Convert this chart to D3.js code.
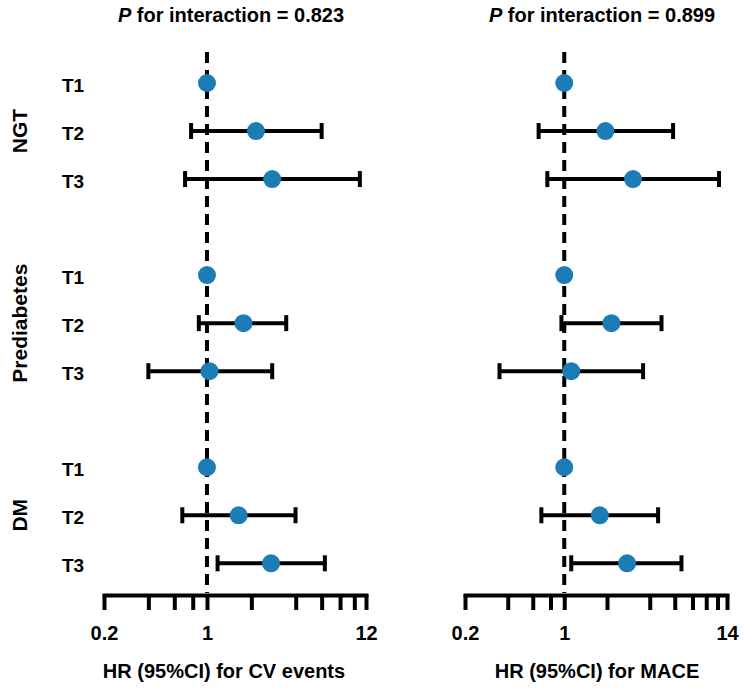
<!DOCTYPE html>
<html>
<head>
<meta charset="utf-8">
<script src="https://cdn.jsdelivr.net/npm/d3@7"></script>
<style>
  body { margin: 0; background: #fff; }
  text { font-family: "Liberation Sans", Arial, sans-serif; font-weight: bold; fill: #000; }
</style>
</head>
<body>
<svg width="744" height="689"></svg>
<script>
// groups and tertiles (rows)
const groups = ["NGT", "Prediabetes", "DM"];
const tertiles = ["T1", "T2", "T3"];

// HR (95%CI) for CV events, row order NGT T1..T3, Prediabetes T1..T3, DM T1..T3
const cvHR   = [1, 2.15, 2.77, 1, 1.77, 1.04, 1, 1.64, 2.72];
const cvLow  = [null, 0.78, 0.71, null, 0.88, 0.40, null, 0.68, 1.18];
const cvHigh = [null, 6.0, 10.9, null, 3.45, 2.77, null, 3.99, 6.31];

// HR (95%CI) for MACE
const maceHR   = [1, 1.95, 3.05, 1, 2.15, 1.12, 1, 1.78, 2.77];
const maceLow  = [null, 0.66, 0.76, null, 0.955, 0.35, null, 0.69, 1.12];
const maceHigh = [null, 5.84, 12.3, null, 4.84, 3.59, null, 4.58, 6.69];

// axis ticks
const cvTicks = [0.2, 0.4, 0.6, 0.8, 1, 2, 4, 6, 8, 10, 12];
const maceTicks = [0.2, 0.4, 0.6, 0.8, 1, 2, 4, 6, 8, 10, 12, 14];
const cvTickLabels = [0.2, 1, 12];
const maceTickLabels = [0.2, 1, 14];

const pValues = ["0.823", "0.899"];
const xTitles = ["HR (95%CI) for CV events", "HR (95%CI) for MACE"];

const svg = d3.select("svg");
const dotColor = "#1b7cb6";
const axisY = 595;

// row index: 3 rows per group with one empty row between groups
const rows = [];
groups.forEach((g, gi) => tertiles.forEach((t, ti) => rows.push({ group: g, label: t, idx: gi * 4 + ti, gi })));

const y = d3.scaleLinear().domain([0, 10]).range([83, 563.3]);

// row labels
svg.append("g").selectAll("text")
    .data(rows)
    .enter().append("text")
    .attr("x", 73)
    .attr("y", d => y(d.idx) + 8.5)
    .attr("text-anchor", "middle")
    .attr("font-size", "19px")
    .text(d => d.label);

// group labels (rotated)
svg.append("g").selectAll("text")
    .data(groups)
    .enter().append("text")
    .attr("transform", (d, i) => `translate(27,${y(i * 4 + 1)}) rotate(-90)`)
    .attr("text-anchor", "middle")
    .attr("font-size", "21px")
    .text(d => d);

const panels = [
    { hr: cvHR, low: cvLow, high: cvHigh, ticks: cvTicks, labels: cvTickLabels, domain: [0.2, 12], range: [104, 366], titleX: 231, xTitleX: 224 },
    { hr: maceHR, low: maceLow, high: maceHigh, ticks: maceTicks, labels: maceTickLabels, domain: [0.2, 14], range: [465, 727], titleX: 602, xTitleX: 597 }
];

panels.forEach((p, pi) => {
    const x = d3.scaleLog().domain(p.domain).range(p.range);
    const g = svg.append("g");

    // title
    const title = g.append("text")
        .attr("x", p.titleX)
        .attr("y", 22)
        .attr("text-anchor", "middle")
        .attr("font-size", "20px");
    title.append("tspan").attr("font-style", "italic").text("P");
    title.append("tspan").text(" for interaction = " + pValues[pi]);

    // reference line at HR = 1
    g.append("line")
        .attr("x1", x(1)).attr("x2", x(1))
        .attr("y1", 52).attr("y2", axisY - 2)
        .attr("stroke", "#000")
        .attr("stroke-width", 4)
        .attr("stroke-dasharray", "11,7");

    // axis
    const axis = d3.axisBottom(x)
        .tickValues(p.ticks)
        .tickSize(15)
        .tickSizeOuter(0)
        .tickPadding(16)
        .tickFormat(d => p.labels.includes(d) ? d3.format("~g")(d) : "");

    const ax = g.append("g")
        .attr("transform", `translate(0,${axisY})`)
        .call(axis);
    ax.select(".domain").attr("stroke-width", 4).attr("stroke-linecap", "square");
    ax.selectAll(".tick line").attr("stroke-width", 4);
    ax.selectAll(".tick text")
        .attr("font-size", "20px")
        .attr("font-family", "Liberation Sans, Arial, sans-serif")
        .attr("font-weight", "bold")
        .attr("fill", "#000");

    // x title
    g.append("text")
        .attr("x", p.xTitleX)
        .attr("y", 678)
        .attr("text-anchor", "middle")
        .attr("font-size", "20px")
        .text(xTitles[pi]);

    const data = rows.map((r, i) => ({ idx: r.idx, hr: p.hr[i], low: p.low[i], high: p.high[i] }));
    const ci = data.filter(d => d.low != null);

    // CI lines
    g.append("g").selectAll("line")
        .data(ci)
        .enter().append("line")
        .attr("x1", d => x(d.low)).attr("x2", d => x(d.high))
        .attr("y1", d => y(d.idx)).attr("y2", d => y(d.idx))
        .attr("stroke", "#000").attr("stroke-width", 4);

    // caps
    ["low", "high"].forEach(k => {
        g.append("g").selectAll("line")
            .data(ci)
            .enter().append("line")
            .attr("x1", d => x(d[k])).attr("x2", d => x(d[k]))
            .attr("y1", d => y(d.idx) - 8).attr("y2", d => y(d.idx) + 8)
            .attr("stroke", "#000").attr("stroke-width", 4);
    });

    // points
    g.append("g").selectAll("circle")
        .data(data)
        .enter().append("circle")
        .attr("cx", d => x(d.hr))
        .attr("cy", d => y(d.idx))
        .attr("r", 9)
        .attr("fill", dotColor);
});
</script>
</body>
</html>
